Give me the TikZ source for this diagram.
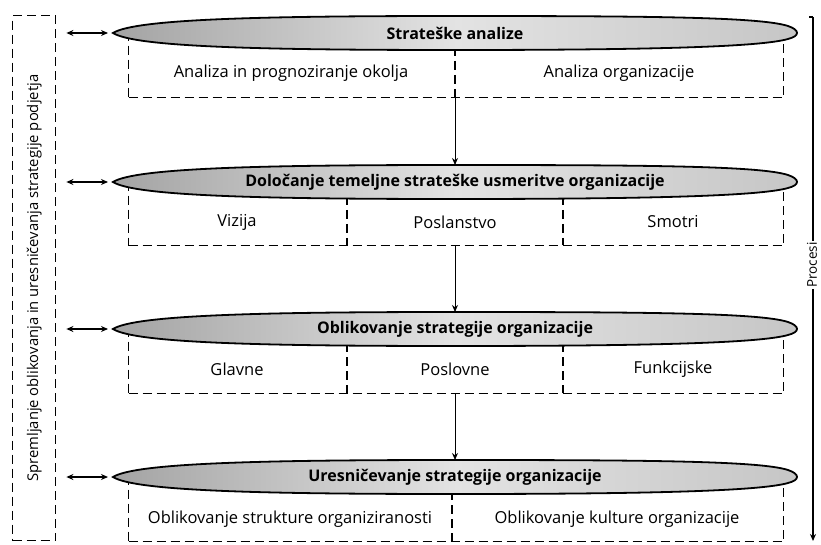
\documentclass[tikz,border=0pt]{standalone}
\usepackage{fontspec}
\setmainfont{Open Sans}
\usetikzlibrary{arrows.meta}
\tikzset{
  dbox/.style={draw, line width=1.4pt, dash pattern=on 9pt off 5pt},
  dline/.style={line width=1.4pt, dash pattern=on 9pt off 5pt},
  lensfill/.style={draw=black, line width=1.8pt, left color=gray!72, right color=gray!45, middle color=gray!22},
  ttl/.style={font=\fontsize{16}{18}\selectfont\bfseries, inner sep=1pt},
  itm/.style={font=\fontsize{16.5}{18}\selectfont},
  sideitm/.style={font=\fontsize{14.8}{17}\selectfont},
  conn/.style={line width=0.9pt, -{Stealth[length=7pt,width=6pt]}},
  bconn/.style={line width=1.3pt, {Stealth[length=7pt,width=6pt]}-{Stealth[length=7pt,width=6pt]}}
}
\newcommand\mylens[3]{% y center, name, title
  \begin{scope}[shift={(0,#1)}]
    \path[lensfill] (113,0) .. controls (135,-14) and (260,-17) .. (455,-17)
      .. controls (650,-17) and (760,-16) .. (788,-7)
      .. controls (800,-3) and (800,3) .. (788,6)
      .. controls (760,14) and (650,17) .. (455,17)
      .. controls (260,17) and (135,14) .. (113,0) -- cycle;
    \coordinate (#2w) at (113,0);
    \coordinate (#2n) at (455,-17);
    \node[ttl] (#2) at (455,0) {#3};
  \end{scope}}
\begin{document}
\begin{tikzpicture}[x=1pt,y=-1pt]
\useasboundingbox (0,0) rectangle (821,545);
% left box
\node[dbox, minimum width=43pt, minimum height=525pt, anchor=north west, inner sep=0pt] (L) at (12,15) {};
\node[sideitm, rotate=90] (Lt) at (L.center) {Spremljanje oblikovanja in uresničevanja strategije podjetja};
% boxes
\node[dbox, anchor=north west, minimum width=655pt, minimum height=64pt, inner sep=0pt] (b1) at (128,33) {};
\node[dbox, anchor=north west, minimum width=655pt, minimum height=63pt, inner sep=0pt] (b2) at (128,182) {};
\node[dbox, anchor=north west, minimum width=655pt, minimum height=64pt, inner sep=0pt] (b3) at (128,329) {};
\node[dbox, anchor=north west, minimum width=655pt, minimum height=64pt, inner sep=0pt] (b4) at (128,477) {};
% dividers
\draw[dline] (455,33) -- (455,97);
\draw[dline] (347,182) -- (347,245);
\draw[dline] (563,182) -- (563,245);
\draw[dline] (347,329) -- (347,393);
\draw[dline] (563,329) -- (563,393);
\draw[dline] (452,477) -- (452,541);
% lenses
\mylens{33}{e1}{Strateške analize}
\mylens{182}{e2}{Določanje temeljne strateške usmeritve organizacije}
\mylens{329}{e3}{Oblikovanje strategije organizacije}
\mylens{477}{e4}{Uresničevanje strategije organizacije}
% texts
\node[itm] (a1) at (291,73) {Analiza in prognoziranje okolja};
\node[itm] (a2) at (619,73) {Analiza organizacije};
\node[itm] (v1) at (237,222) {Vizija};
\node[itm] (v2) at (455,222) {Poslanstvo};
\node[itm] (v3) at (673,222) {Smotri};
\node[itm] (g1) at (237,369) {Glavne};
\node[itm] (g2) at (455,369) {Poslovne};
\node[itm] (g3) at (673,369) {Funkcijske};
\node[itm] (o1) at (290,519) {Oblikovanje strukture organiziranosti};
\node[itm] (o2) at (617,519) {Oblikovanje kulture organizacije};
% vertical connectors
\draw[conn] (b1.south -| e1n) -- (e2n);
\draw[conn] (b2.south -| e2n) -- (e3n);
\draw[conn] (b3.south -| e3n) -- (e4n);
% double arrows
\draw[bconn, shorten <=10pt, shorten >=5pt] (L.east |- e1w) -- (e1w);
\draw[bconn, shorten <=10pt, shorten >=5pt] (L.east |- e2w) -- (e2w);
\draw[bconn, shorten <=10pt, shorten >=5pt] (L.east |- e3w) -- (e3w);
\draw[bconn, shorten <=10pt, shorten >=5pt] (L.east |- e4w) -- (e4w);
% right process line
\coordinate (pt) at (813,17);
\coordinate (pb) at (813,541);
\draw[line width=1.2pt] (809,17) -- (pt);
\draw[line width=1.2pt, -{Stealth[length=7pt,width=6pt]}] (pt) -- (pb);
\node[font=\fontsize{13.5}{15}\selectfont, rotate=90, fill=white, inner sep=1.5pt] (P) at (812,265) {Procesi};
\end{tikzpicture}
\end{document}
